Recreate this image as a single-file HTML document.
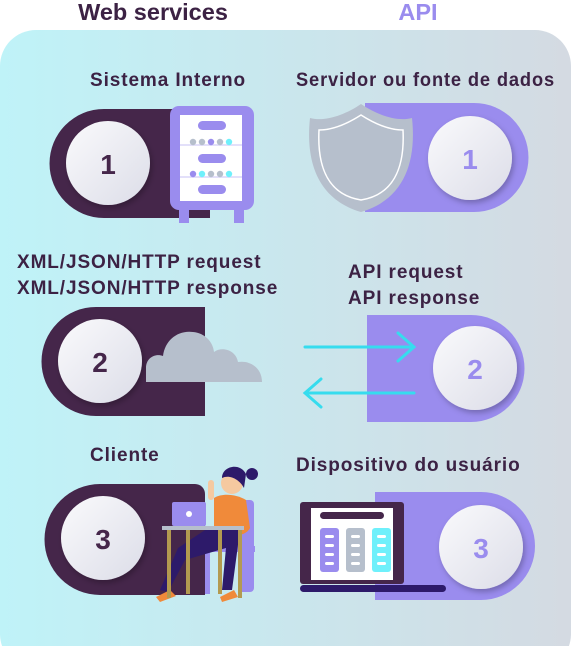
<!DOCTYPE html>
<html><head><meta charset="utf-8"><style>
body{margin:0;width:571px;height:646px;overflow:hidden;background:#fff}
svg{display:block}
text{font-family:"Liberation Sans",sans-serif;font-weight:bold}
</style></head><body>
<svg width="571" height="646" viewBox="0 0 571 646" xmlns="http://www.w3.org/2000/svg">
<defs>
<linearGradient id="bg" x1="0" x2="1" y1="0" y2="0"><stop offset="0" stop-color="#bff3f8"/><stop offset="1" stop-color="#d4dae2"/></linearGradient>
<linearGradient id="cg" x1="0" y1="0" x2="1" y2="1"><stop offset="0" stop-color="#fafafc"/><stop offset="1" stop-color="#dcdde8"/></linearGradient>
<filter id="sh" x="-30%" y="-30%" width="160%" height="160%"><feDropShadow dx="2" dy="3" stdDeviation="3" flood-color="#000" flood-opacity="0.25"/></filter>
</defs>
<rect x="0" y="30" width="571" height="640" rx="36" fill="url(#bg)"/>
<text x="153" y="20" font-size="23.5" fill="#3c2244" text-anchor="middle">Web services</text>
<text x="418" y="20" font-size="23.5" fill="#9a8cee" text-anchor="middle">API</text>
<g font-size="19" fill="#3c2244" letter-spacing="0.9">
<text x="90" y="86">Sistema Interno</text>
<text x="296" y="86" textLength="259" lengthAdjust="spacingAndGlyphs">Servidor ou fonte de dados</text>
<text x="17" y="268">XML/JSON/HTTP request</text>
<text x="17" y="294">XML/JSON/HTTP response</text>
<text x="348" y="278">API request</text>
<text x="348" y="304">API response</text>
<text x="90" y="461">Cliente</text>
<text x="296" y="471">Dispositivo do usuário</text>
</g>
<path d="M104 109 H210 V218 H104 A54.5 54.5 0 0 1 104 109Z" fill="#45264a"/>
<circle cx="108" cy="163" r="42" fill="url(#cg)" filter="url(#sh)"/>
<text x="108" y="174" font-size="28" fill="#45264a" text-anchor="middle">1</text>
<rect x="179" y="203" width="10" height="20" fill="#9a8cee"/><rect x="234" y="203" width="10" height="20" fill="#9a8cee"/>
<rect x="170" y="106" width="84" height="104" rx="9" fill="#9a8cee"/>
<rect x="180" y="115" width="62" height="86" fill="#fff"/>
<rect x="198" y="121" width="28" height="9" rx="4.5" fill="#9a8cee"/>
<rect x="198" y="154" width="28" height="9" rx="4.5" fill="#9a8cee"/>
<rect x="198" y="185" width="28" height="9" rx="4.5" fill="#9a8cee"/>
<rect x="180" y="144" width="62" height="2" fill="#e3e0fa"/><rect x="180" y="176" width="62" height="2" fill="#e3e0fa"/>
<g><circle cx="193" cy="142" r="3.2" fill="#b6bfcc"/><circle cx="202" cy="142" r="3.2" fill="#b6bfcc"/><circle cx="211" cy="142" r="3.2" fill="#9a8cee"/><circle cx="220" cy="142" r="3.2" fill="#b6bfcc"/><circle cx="229" cy="142" r="3.2" fill="#6ff0fb"/>
<circle cx="193" cy="174" r="3.2" fill="#9a8cee"/><circle cx="202" cy="174" r="3.2" fill="#6ff0fb"/><circle cx="211" cy="174" r="3.2" fill="#b6bfcc"/><circle cx="220" cy="174" r="3.2" fill="#b6bfcc"/><circle cx="229" cy="174" r="3.2" fill="#6ff0fb"/></g>
<path d="M365 103 H474 A54.5 54.5 0 0 1 474 212 H365Z" fill="#9a8cee"/>
<path d="M361 104 C345 115 325 122 310 118 C305 165 320 200 361 212 C402 200 417 165 412 118 C397 122 377 115 361 104Z" fill="#b6bfcc"/>
<path d="M361 115 C347 124 333 130 319 130 C317 170 330 195 361 200 C392 195 405 170 403 130 C389 130 375 124 361 115Z" fill="none" stroke="#fff" stroke-width="1.5"/>
<circle cx="470" cy="158" r="42" fill="url(#cg)" filter="url(#sh)"/>
<text x="470" y="169" font-size="28" fill="#9a8cee" text-anchor="middle">1</text>
<path d="M96 307 H205 V416 H96 A54.5 54.5 0 0 1 96 307Z" fill="#45264a"/>
<circle cx="100" cy="361" r="42" fill="url(#cg)" filter="url(#sh)"/>
<text x="100" y="372" font-size="28" fill="#45264a" text-anchor="middle">2</text>
<path d="M146 382 V368 C146 358 155 353 163 356 C165 340 178 330 193 332 C205 333 213 342 214 352 C222 346 236 350 238 362 C250 360 262 368 262 382Z" fill="#b6bfcc"/>
<path d="M367 315 H471 A53.5 53.5 0 0 1 471 422 H367Z" fill="#9a8cee"/>
<circle cx="475" cy="368" r="42" fill="url(#cg)" filter="url(#sh)"/>
<text x="475" y="379" font-size="28" fill="#9a8cee" text-anchor="middle">2</text>
<g stroke="#36dcee" stroke-width="3" fill="none" stroke-linecap="round">
<path d="M305 347 H414 M398 333 L414 347 L398 361"/>
<path d="M414 393 H305 M321 379 L305 393 L321 407"/>
</g>
<path d="M100 484 H195 A10 10 0 0 1 205 494 V595 H100 A55.5 55.5 0 0 1 100 484Z" fill="#45264a"/>
<circle cx="103" cy="538" r="42" fill="url(#cg)" filter="url(#sh)"/>
<text x="103" y="549" font-size="28" fill="#45264a" text-anchor="middle">3</text>
<rect x="238" y="500" width="16" height="92" rx="4" fill="#9a8cee"/>
<rect x="205" y="546" width="50" height="6" fill="#9a8cee"/>
<rect x="205" y="552" width="5" height="42" fill="#9a8cee"/>
<path d="M214 498 C222 493 236 494 246 500 L250 528 C245 538 225 538 214 530Z" fill="#f08a3a"/>
<path d="M205 530 L240 530 L232 590 L222 590 L226 548 L185 560 L168 592 L160 590 L178 548Z" fill="#2d1a6a"/>
<circle cx="232" cy="483" r="11" fill="#f5c9a0"/>
<path d="M222 478 C222 466 240 462 246 474 L244 488 C240 480 230 474 222 478Z" fill="#2d1a6a"/>
<circle cx="252" cy="474" r="6" fill="#2d1a6a"/>
<rect x="208" y="480" width="6" height="20" rx="3" fill="#f5c9a0"/>
<path d="M156 597 L170 590 L176 596 L160 602Z" fill="#f08a3a"/>
<path d="M220 597 L234 590 L238 597 L222 602Z" fill="#f08a3a"/>
<rect x="172" y="502" width="34" height="24" rx="2" fill="#9a8cee"/>
<circle cx="189" cy="514" r="3" fill="#fff"/>
<rect x="162" y="526" width="82" height="4" fill="#b6bfcc"/>
<rect x="167" y="530" width="4" height="68" fill="#b39a50"/>
<rect x="186" y="530" width="4" height="64" fill="#b39a50"/>
<rect x="218" y="530" width="4" height="64" fill="#b39a50"/>
<rect x="238" y="530" width="4" height="68" fill="#b39a50"/>
<path d="M375 492 H481 A54 54 0 0 1 481 600 H375Z" fill="#9a8cee"/>
<circle cx="481" cy="547" r="42" fill="url(#cg)" filter="url(#sh)"/>
<text x="481" y="558" font-size="28" fill="#9a8cee" text-anchor="middle">3</text>
<rect x="300" y="502" width="104" height="82" rx="3" fill="#45264a"/>
<rect x="311" y="508" width="82" height="72" fill="#fff"/>
<rect x="320" y="512" width="64" height="7" rx="3.5" fill="#45264a"/>
<rect x="320" y="528" width="19" height="44" rx="3" fill="#9a8cee"/>
<rect x="346" y="528" width="19" height="44" rx="3" fill="#b6bfcc"/>
<rect x="372" y="528" width="19" height="44" rx="3" fill="#6ff0fb"/>
<g fill="#fff">
<rect x="325" y="535" width="9" height="3" rx="1.5"/><rect x="325" y="544" width="9" height="3" rx="1.5"/><rect x="325" y="553" width="9" height="3" rx="1.5"/><rect x="325" y="562" width="9" height="3" rx="1.5"/>
<rect x="351" y="535" width="9" height="3" rx="1.5"/><rect x="351" y="544" width="9" height="3" rx="1.5"/><rect x="351" y="553" width="9" height="3" rx="1.5"/><rect x="351" y="562" width="9" height="3" rx="1.5"/>
<rect x="377" y="535" width="9" height="3" rx="1.5"/><rect x="377" y="544" width="9" height="3" rx="1.5"/><rect x="377" y="553" width="9" height="3" rx="1.5"/><rect x="377" y="562" width="9" height="3" rx="1.5"/>
</g>
<rect x="300" y="585" width="146" height="7" rx="3.5" fill="#2d1a6a"/>
</svg>
</body></html>
